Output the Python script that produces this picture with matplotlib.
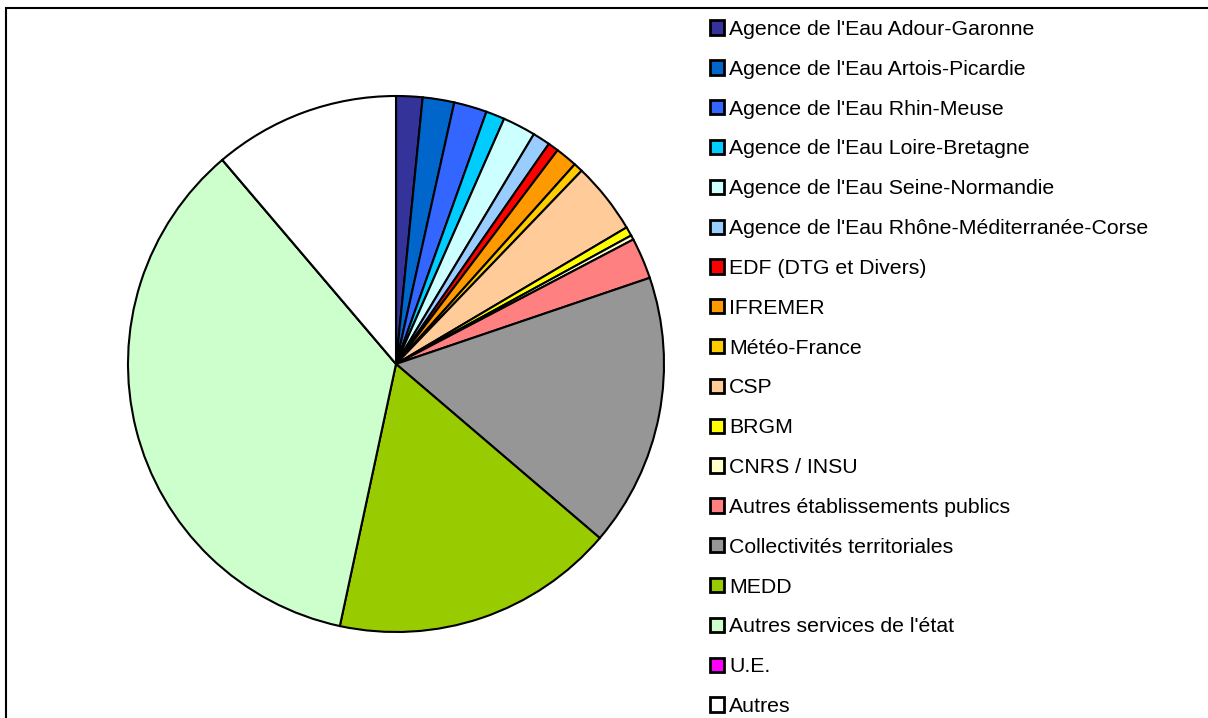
import matplotlib
matplotlib.use("Agg")
import matplotlib.pyplot as plt
from matplotlib.patches import Rectangle

plt.rcParams['font.family'] = ['Liberation Sans', 'DejaVu Sans']

# Funding sources (share of total, %)
labels = [
    "Agence de l'Eau Adour-Garonne",
    "Agence de l'Eau Artois-Picardie",
    "Agence de l'Eau Rhin-Meuse",
    "Agence de l'Eau Loire-Bretagne",
    "Agence de l'Eau Seine-Normandie",
    "Agence de l'Eau Rhône-Méditerranée-Corse",
    "EDF (DTG et Divers)",
    "IFREMER",
    "Météo-France",
    "CSP",
    "BRGM",
    "CNRS / INSU",
    "Autres établissements publics",
    "Collectivités territoriales",
    "MEDD",
    "Autres services de l'état",
    "U.E.",
    "Autres",
]
shares = [1.59, 1.90, 1.99, 1.13, 1.99, 1.06, 0.64, 1.32, 0.56, 4.31,
          0.55, 0.27, 2.48, 16.46, 17.11, 35.42, 0.0, 11.22]
colors = ["#333399", "#0066CC", "#3366FF", "#00CCFF", "#CCFFFF", "#99CCFF",
          "#FF0000", "#FF9900", "#FFCC00", "#FFCC99", "#FFFF00", "#FFFFCC",
          "#FF8080", "#969696", "#99CC00", "#CCFFCC", "#FF00FF", "#FFFFFF"]

W, H = 1208, 718
fig = plt.figure(figsize=(W / 100, H / 100), dpi=100)

# outer chart frame (only top and left edges visible in the crop)
fig.add_artist(Rectangle((6 / W, -0.1), 1.2, (H - 8) / H + 0.1,
                         transform=fig.transFigure, fill=False,
                         edgecolor="black", linewidth=1.5))

# pie: centre (396, 364) px, radius 268 px
cx, cy, r = 396, 364, 268
ax = fig.add_axes([(cx - r) / W, (H - cy - r) / H, 2 * r / W, 2 * r / H])
wedges, _ = ax.pie(shares, colors=colors, startangle=90, counterclock=False,
                   radius=1.0,
                   wedgeprops=dict(edgecolor="black", linewidth=1.5))
ax.set_xlim(-1, 1)
ax.set_ylim(-1, 1)
ax.set_aspect("auto")
ax.axis("off")

leg = fig.legend(wedges, labels, loc="upper left",
                 bbox_to_anchor=(710 / W, 1 - 20 / H),
                 bbox_transform=fig.transFigure,
                 frameon=False, fontsize=15.3, borderpad=0, borderaxespad=0,
                 handlelength=0.66, handleheight=0.66, handletextpad=0.24,
                 labelspacing=0.98)
for h in leg.legend_handles:
    h.set_linewidth(2)

fig.savefig("out.png", dpi=100, facecolor="white")
